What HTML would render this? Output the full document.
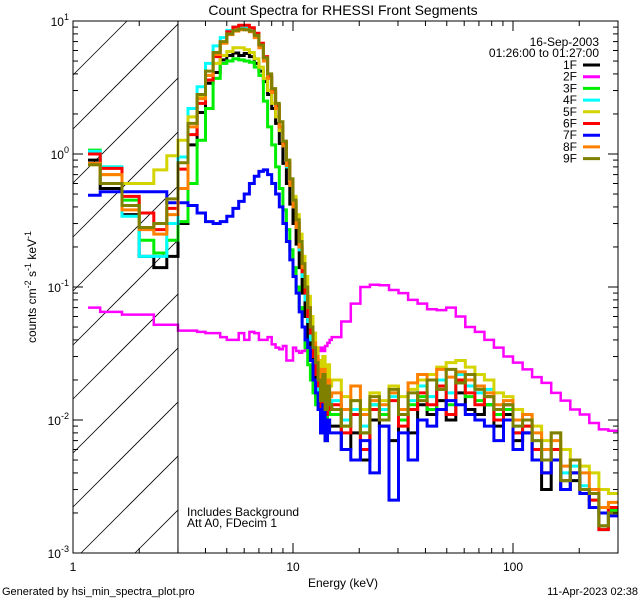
<!DOCTYPE html>
<html><head><meta charset="utf-8"><style>
html,body{margin:0;padding:0;background:#fff;width:640px;height:600px;overflow:hidden}
svg{display:block;font-family:"Liberation Sans",sans-serif}
</style></head><body>
<svg id="chart" width="640" height="600" viewBox="0 0 640 600" xmlns="http://www.w3.org/2000/svg">
<rect width="640" height="600" fill="#fff"/>
<defs><clipPath id="pc"><rect x="73" y="21" width="545" height="532"/></clipPath></defs>
<text x="343" y="15" font-size="14" text-anchor="middle">Count Spectra for RHESSI Front Segments</text>
<g id="hatch"></g>
<g id="series" clip-path="url(#pc)"></g>
<g id="axes"></g>
<text x="599" y="46" font-size="12" text-anchor="end">16-Sep-2003</text>
<text x="599" y="57" font-size="12" text-anchor="end">01:26:00 to 01:27:00</text>
<g id="legend"></g>
<text x="187" y="516" font-size="12">Includes Background</text>
<text x="187" y="527" font-size="12">Att A0, FDecim 1</text>
<text x="343" y="587" font-size="12" text-anchor="middle">Energy (keV)</text>
<text transform="translate(36,287) rotate(-90)" font-size="12" text-anchor="middle">counts cm<tspan dy="-5" font-size="9">-2</tspan><tspan dy="5"> s</tspan><tspan dy="-5" font-size="9">-1</tspan><tspan dy="5"> keV</tspan><tspan dy="-5" font-size="9">-1</tspan></text>
<text x="2" y="595" font-size="11">Generated by hsi_min_spectra_plot.pro</text>
<text x="638" y="595" font-size="11" text-anchor="end">11-Apr-2023 02:38</text>
</svg>
<script>
const names = ["1F","2F","3F","4F","5F","6F","7F","8F","9F"];
const colors = ["#000000","#ff00ff","#00ee00","#00ffff","#d4d400","#ff0000","#0000ff","#ff8000","#808000"];
const lowEdges = [1.17,1.33,1.67,2,2.33,2.67,3];
const xTicksMajor = [1,10,100];
const xTickLabels = ["1","10","100"];
const yTicksMajor = [-3,-2,-1,0,1];
const s1F = [0.9,0.55,0.35,0.17,0.14,0.17, 0.3,1.17,2.05,3.4,4.1,5.1,5.5,5.75,5.5,5.7,5.4,4.8,4.2,3.5,2.8,2.2,1.7,1.2,0.85,0.6,0.42,0.3,0.21,0.14,0.09,0.06,0.04,0.03,0.022,0.015,0.012,0.008,0.012,0.007,0.01,0.009, 0.009,0.006,0.008,0.005,0.01,0.009,0.007,0.011,0.008,0.013,0.011,0.014,0.01,0.016,0.012,0.011,0.013,0.009,0.011,0.007,0.008,0.005,0.003,0.005,0.003,0.0035,0.003,0.0022,0.0016,0.002];
const s2F = [0.07,0.065,0.062,0.062,0.052,0.052, 0.047,0.047,0.046,0.045,0.045,0.042,0.04,0.04,0.045,0.04,0.046,0.045,0.04,0.04,0.042,0.037,0.035,0.034,0.036,0.028,0.028,0.035,0.033,0.032,0.033,0.034,0.033,0.032,0.031,0.032,0.033,0.035,0.033,0.036,0.038,0.04, 0.042,0.055,0.075,0.1,0.104,0.103,0.095,0.09,0.08,0.075,0.068,0.067,0.07,0.06,0.05,0.046,0.04,0.035,0.03,0.027,0.024,0.021,0.019,0.016,0.014,0.012,0.011,0.0095,0.0085,0.0083];
const s3F = [1.07,0.8,0.45,0.225,0.18,0.225, 0.31,0.6,1.27,2.2,3.7,4.8,5.0,5.2,5.1,5.0,4.9,4.5,3.9,2.5,1.6,1.17,0.8,0.55,0.38,0.27,0.19,0.14,0.1,0.07,0.05,0.035,0.026,0.02,0.016,0.013,0.012,0.009,0.014,0.01,0.013,0.011, 0.011,0.009,0.012,0.008,0.013,0.011,0.016,0.01,0.013,0.015,0.012,0.017,0.013,0.019,0.015,0.014,0.013,0.011,0.012,0.008,0.009,0.006,0.004,0.005,0.0035,0.004,0.003,0.0025,0.002,0.0021];
const s4F = [1.05,0.8,0.34,0.17,0.17,0.3, 0.95,2.2,3.2,4.8,6.5,7.5,8.5,9.0,9.1,9.0,8.8,8.0,6.6,5.2,3.7,2.9,2.2,1.6,1.15,0.8,0.58,0.4,0.28,0.19,0.12,0.08,0.055,0.04,0.03,0.022,0.016,0.013,0.018,0.012,0.015,0.012, 0.014,0.01,0.012,0.009,0.013,0.012,0.015,0.012,0.014,0.018,0.015,0.02,0.016,0.022,0.018,0.016,0.017,0.012,0.013,0.009,0.01,0.007,0.005,0.006,0.004,0.0045,0.0032,0.0028,0.0015,0.0022];
const s5F = [0.83,0.7,0.6,0.6,0.76,0.97, 1.27,1.9,2.7,3.9,4.8,5.5,5.9,6.3,6.3,6.1,5.8,5.2,4.5,3.7,3.0,2.4,1.9,1.5,1.2,0.9,0.65,0.48,0.35,0.25,0.17,0.12,0.085,0.06,0.045,0.035,0.028,0.022,0.03,0.02,0.026,0.018, 0.02,0.015,0.014,0.012,0.016,0.014,0.018,0.015,0.017,0.02,0.022,0.025,0.027,0.028,0.025,0.022,0.02,0.016,0.015,0.012,0.011,0.009,0.007,0.008,0.006,0.005,0.0045,0.004,0.003,0.0028];
const s6F = [1.0,0.78,0.48,0.36,0.27,0.39, 0.77,1.4,2.4,3.6,5.4,6.9,8.3,9.0,9.3,9.3,8.9,8.1,6.8,5.4,3.8,3.0,2.3,1.6,1.2,0.85,0.6,0.42,0.3,0.2,0.13,0.09,0.06,0.045,0.03,0.022,0.018,0.012,0.02,0.011,0.016,0.012, 0.013,0.008,0.011,0.006,0.012,0.01,0.014,0.009,0.012,0.016,0.013,0.018,0.011,0.02,0.016,0.013,0.015,0.01,0.013,0.008,0.009,0.006,0.004,0.006,0.0035,0.004,0.003,0.0025,0.0015,0.0022];
const s7F = [0.49,0.52,0.52,0.52,0.52,0.43, 0.43,0.41,0.36,0.31,0.3,0.31,0.34,0.39,0.44,0.5,0.6,0.68,0.74,0.76,0.7,0.6,0.5,0.4,0.3,0.22,0.16,0.12,0.09,0.065,0.05,0.04,0.035,0.028,0.02,0.016,0.012,0.008,0.013,0.007,0.01,0.008, 0.008,0.006,0.005,0.007,0.004,0.009,0.0025,0.008,0.005,0.01,0.009,0.012,0.014,0.013,0.011,0.01,0.009,0.007,0.01,0.006,0.008,0.005,0.004,0.005,0.003,0.004,0.0028,0.0022,0.002,0.0019];
const s8F = [0.85,0.7,0.38,0.27,0.25,0.35, 0.55,1.6,2.6,3.9,5.6,6.8,7.9,8.4,8.6,8.6,8.3,7.5,6.3,5.0,3.7,2.9,2.2,1.6,1.15,0.82,0.58,0.4,0.28,0.2,0.14,0.1,0.07,0.05,0.038,0.03,0.024,0.018,0.024,0.016,0.02,0.015, 0.016,0.012,0.018,0.011,0.014,0.013,0.016,0.012,0.019,0.022,0.02,0.024,0.021,0.023,0.02,0.018,0.016,0.013,0.014,0.01,0.011,0.008,0.006,0.007,0.0045,0.005,0.004,0.003,0.0022,0.0024];
const s9F = [0.83,0.6,0.41,0.28,0.3,0.46, 0.86,1.7,2.8,4.2,5.8,7.0,8.0,8.5,8.7,8.6,8.4,7.8,6.6,5.3,4.0,3.1,2.4,1.75,1.25,0.9,0.65,0.45,0.32,0.22,0.15,0.1,0.07,0.05,0.035,0.027,0.02,0.014,0.022,0.012,0.018,0.013, 0.012,0.009,0.014,0.008,0.015,0.01,0.017,0.011,0.016,0.014,0.02,0.017,0.024,0.019,0.022,0.017,0.015,0.012,0.013,0.009,0.01,0.007,0.005,0.008,0.0035,0.005,0.003,0.0028,0.0016,0.002];
const seriesData = [s1F,s2F,s3F,s4F,s5F,s6F,s7F,s8F,s9F];

const NS="http://www.w3.org/2000/svg";
const X0=73,X1=618,Y0=21,Y1=553,DX=220,DY=133;
function xs(e){return X0+DX*Math.log10(e);}
function ys(v){return Y0+DY*(1-Math.log10(v));}
const edges=lowEdges.slice();
for(let k=1;k<=36;k++)edges.push(3+k/3);
for(let i=1;i<=30;i++)edges.push(15*Math.pow(20,i/30));
function mk(tag,attrs,parent){const el=document.createElementNS(NS,tag);for(const k in attrs)el.setAttribute(k,attrs[k]);parent.appendChild(el);return el;}

const hatch=document.getElementById('hatch');
const HX=xs(3);
for(let c=Y0;c<Y1+(HX-X0);c+=54){
  const xa=Math.max(X0, X0+c-Y1), xb=Math.min(HX, X0+c-Y0);
  if(xb<=xa)continue;
  const l=mk('line',{x1:xa,y1:c-(xa-X0),x2:xb,y2:c-(xb-X0),stroke:'#000','stroke-width':0.8},hatch);
  
  
}
const sg=document.getElementById('series');
seriesData.forEach((vals,si)=>{
  let d='';
  vals.forEach((v,i)=>{
    const y=ys(v).toFixed(1);
    d+=(i===0?'M':'L')+xs(edges[i]).toFixed(1)+','+y+'L'+Math.min(X1,xs(edges[i+1])).toFixed(1)+','+y;
  });
  const p=mk('path',{d:d,fill:'none',stroke:colors[si],'stroke-width':si===1?2.5:3,'stroke-linejoin':'miter'},sg);
  
  
});
const ag=document.getElementById('axes');
const fr=mk('rect',{x:X0,y:Y0,width:X1-X0,height:Y1-Y0,fill:'none',stroke:'#000','stroke-width':1},ag);


const vl=mk('line',{x1:xs(3),y1:Y0,x2:xs(3),y2:Y1,stroke:'#000','stroke-width':1},ag);


for(let dec=0;dec<3;dec++){for(let m=1;m<10;m++){
  const e=Math.pow(10,dec)*m; if(e>300)break; const x=xs(e); const L=m===1?10:5;
  mk('line',{x1:x,y1:Y1,x2:x,y2:Y1-L,stroke:'#000'},ag);
  mk('line',{x1:x,y1:Y0,x2:x,y2:Y0+L,stroke:'#000'},ag);
}}
xTicksMajor.forEach((e,i)=>{
  const t=mk('text',{x:xs(e),y:Y1+18,'font-size':12,'text-anchor':'middle'},ag);t.textContent=xTickLabels[i];
  
  
});
for(let p=-3;p<1;p++){for(let m=1;m<10;m++){
  const y=ys(Math.pow(10,p)*m); const L=m===1?10:5;
  mk('line',{x1:X0,y1:y,x2:X0+L,y2:y,stroke:'#000'},ag);
  mk('line',{x1:X1,y1:y,x2:X1-L,y2:y,stroke:'#000'},ag);
}}
yTicksMajor.forEach(p=>{
  const y=ys(Math.pow(10,p));
  const t=mk('text',{x:X0-4,y:y+5,'font-size':12,'text-anchor':'end'},ag);
  t.innerHTML='10<tspan dy="-6" font-size="9">'+p+'</tspan>';
  
  
});
const lg=document.getElementById('legend');
names.forEach((n,i)=>{
  const y=65+i*11.7;
  const t=mk('text',{x:577,y:y+4,'font-size':12,'text-anchor':'end'},lg);t.textContent=n;
  
  
  const l=mk('line',{x1:583,y1:y,x2:600,y2:y,stroke:colors[i],'stroke-width':3},lg);
  
  
});
</script>
</body></html>
